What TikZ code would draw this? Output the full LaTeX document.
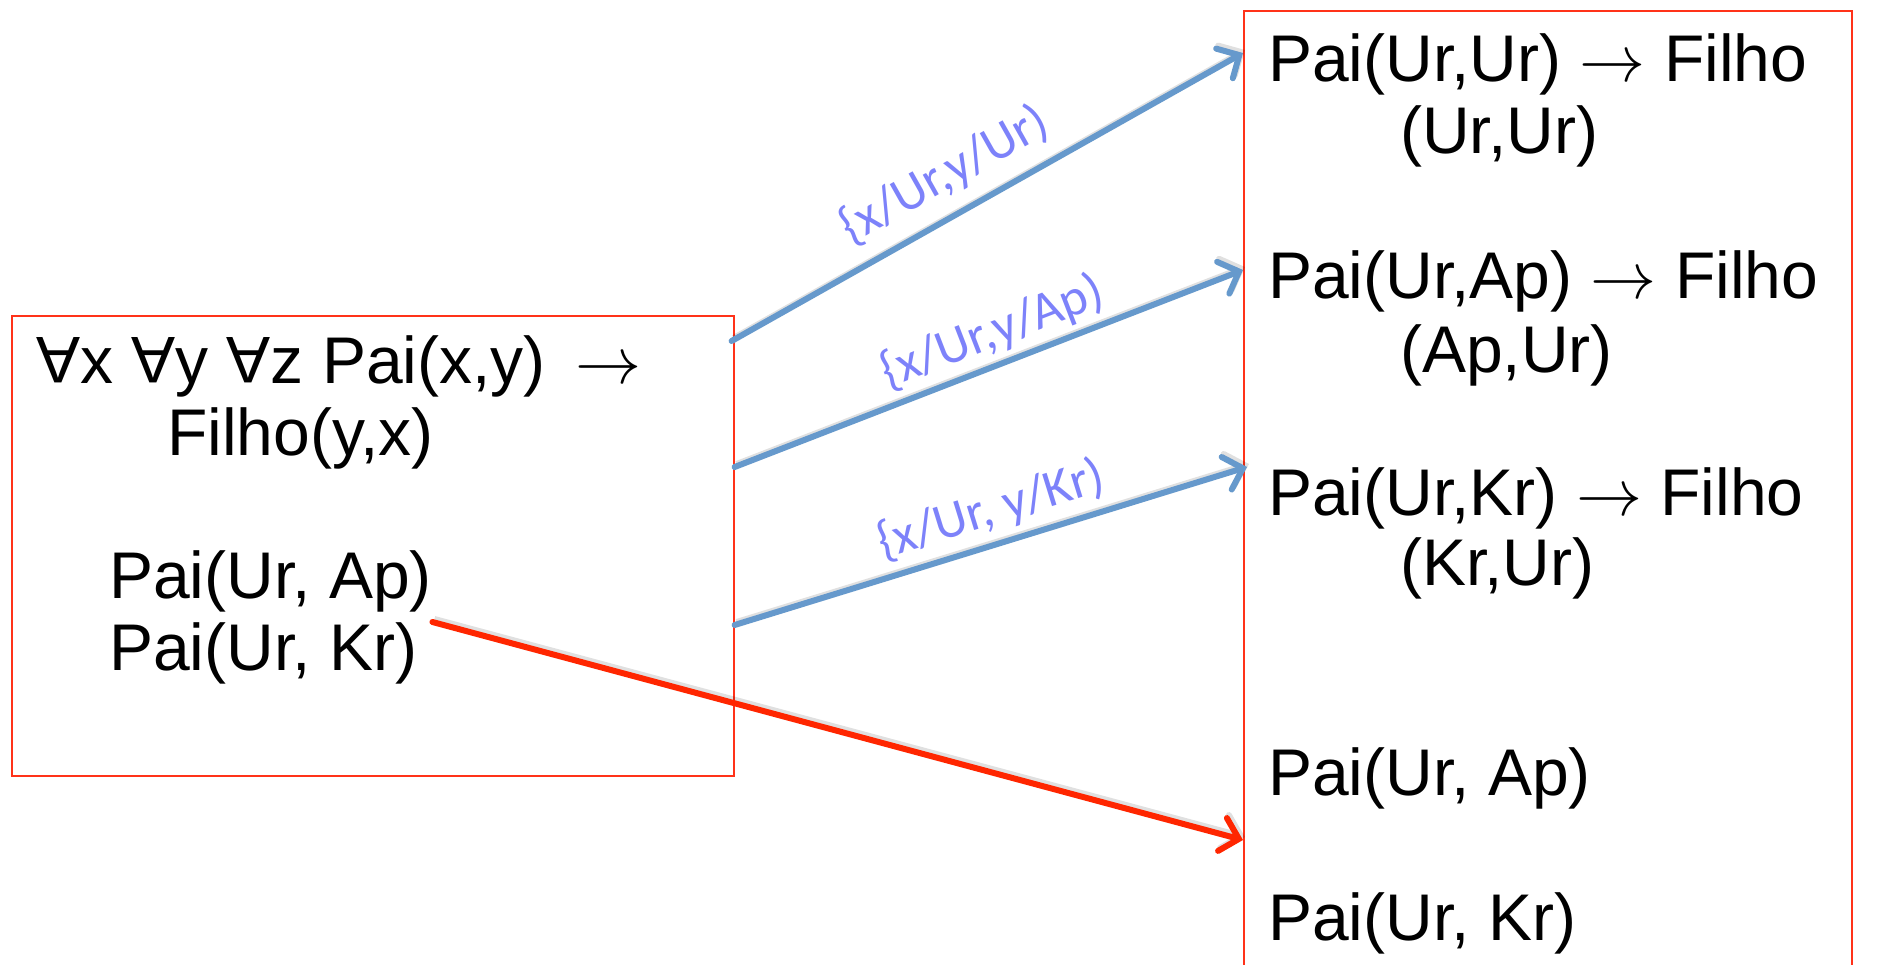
\documentclass[tikz,border=0pt]{standalone}
\usepackage{fix-cm}
\usepackage{fontspec}
\setmainfont{Liberation Sans}
\newfontfamily\lblfont{Carlito}
\usetikzlibrary{arrows.meta}
\definecolor{boxred}{RGB}{255,50,25}
\definecolor{arrblue}{RGB}{102,153,204}
\definecolor{lblblue}{RGB}{125,130,250}
\definecolor{arrred}{RGB}{255,38,0}
\newcommand{\fa}{\rotatebox[origin=c]{180}{A}}
\begin{document}
\begin{tikzpicture}[x=1pt,y=-1pt,
  frame/.style={draw=boxred, line width=1.6pt, inner sep=0pt, anchor=north west},
  txt/.style={inner sep=0pt, anchor=base west, font=\fontsize{66}{72}\selectfont},
  link/.style={draw=arrblue, line width=6pt, line cap=round,
    preaction={draw=black, draw opacity=0.12, line width=6pt, transform canvas={shift={(2pt,3pt)}}},
    -{Straight Barb[length=17pt,width=34pt,line cap=round]}},
  redlink/.style={link, draw=arrred},
  lbl/.style={inner sep=0pt, sloped, text=lblblue, font=\lblfont\fontsize{52}{58}\selectfont}]
\useasboundingbox (0,0) rectangle (1885,964);
\clip (0,0) rectangle (1885,964);
\fill[white] (0,0) rectangle (1885,964);

\node[frame, minimum width=722pt, minimum height=460pt] (lbox) at (11,315) {};
\node[frame, minimum width=608pt, minimum height=1100pt] (rbox) at (1243,10) {};

\node[txt] (l1) at (36,383) {\fa x \fa y \fa z Pai(x,y)\, $\rightarrow$};
\node[txt] (l2) at (167,455) {Filho(y,x)};
\node[txt] (l3) at (109,598) {Pai(Ur, Ap)};
\node[txt] (l4) at (109,670) {Pai(Ur, Kr)};

\node[txt] (r1) at (1268,81) {Pai(Ur,Ur) $\rightarrow$ Filho};
\node[txt] (r1b) at (1400,153) {(Ur,Ur)};
\node[txt] (r2) at (1268,298) {Pai(Ur,Ap) $\rightarrow$ Filho};
\node[txt] (r2b) at (1400,372) {(Ap,Ur)};
\node[txt] (r3) at (1268,515) {Pai(Ur,Kr) $\rightarrow$ Filho};
\node[txt] (r3b) at (1400,585) {(Kr,Ur)};
\node[txt] (r4) at (1268,795) {Pai(Ur, Ap)};
\node[txt] (r5) at (1268,940) {Pai(Ur, Kr)};

\coordinate (s1) at ([xshift=-3pt,yshift=-26pt]lbox.north east);
\coordinate (s2) at ([yshift=-152pt]lbox.north east);
\coordinate (s3) at ([yshift=-310pt]lbox.north east);
\coordinate (e1) at ([yshift=-43pt]rbox.north west);
\coordinate (e2) at ([yshift=-260pt]rbox.north west);
\coordinate (e3) at ([xshift=4pt,yshift=-457pt]rbox.north west);
\coordinate (rs) at ([xshift=15pt]l4.north east);
\coordinate (re) at ([yshift=-830pt]rbox.north west);

\draw[link] (s1) -- node[lbl, above=14pt, pos=0.455] {\{x/Ur,y/Ur)} (e1);
\draw[link] (s2) -- node[lbl, above=6pt, pos=0.53] {\{x/Ur,y/Ap)} (e2);
\draw[link] (s3) -- node[lbl, above=8pt, pos=0.52] {\{x/Ur, y/Kr)} (e3);
\draw[redlink] (rs) -- (re);
\end{tikzpicture}
\end{document}
